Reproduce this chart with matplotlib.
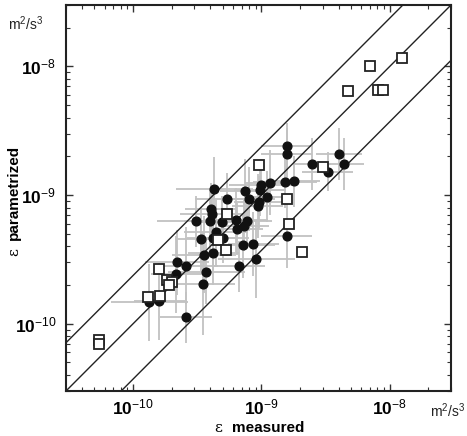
import numpy as np
import matplotlib
matplotlib.use("Agg")
import matplotlib.pyplot as plt
from matplotlib.ticker import LogLocator, FixedLocator, NullFormatter

plt.rcParams['font.family'] = ['Liberation Sans', 'DejaVu Sans']
plt.rcParams['mathtext.fontset'] = 'custom'
plt.rcParams['mathtext.rm'] = 'Liberation Sans'
plt.rcParams['mathtext.bf'] = 'Liberation Sans:bold'
plt.rcParams['mathtext.it'] = 'Liberation Sans:italic'

# measured (x) vs parametrized (y) dissipation, m^2/s^3 -- filled circles with error bars
circ_x = [1.57e-9, 1.57e-9, 4.03e-9, 2.48e-9, 4.43e-9, 3.29e-9, 9.93e-10, 1.17e-9, 1.53e-9, 1.80e-9,
          4.30e-10, 7.48e-10, 9.75e-10, 5.37e-10, 8.05e-10, 1.11e-9, 9.62e-10, 9.35e-10, 4.03e-10, 4.10e-10,
          3.09e-10, 3.94e-10, 4.91e-10, 6.34e-10, 7.67e-10, 7.29e-10, 6.49e-10, 4.40e-10, 3.37e-10, 4.17e-10,
          5.05e-10, 1.57e-9, 7.19e-10, 8.65e-10, 3.59e-10, 4.22e-10, 9.08e-10, 2.19e-10, 2.60e-10, 2.17e-10,
          3.70e-10, 6.73e-10, 3.48e-10, 1.34e-10, 1.60e-10, 2.58e-10]
circ_y = [2.42e-9, 2.08e-9, 2.09e-9, 1.75e-9, 1.74e-9, 1.52e-9, 1.20e-9, 1.25e-9, 1.26e-9, 1.28e-9,
          1.11e-9, 1.08e-9, 1.09e-9, 9.35e-10, 9.35e-10, 9.70e-10, 8.83e-10, 8.22e-10, 7.78e-10, 7.14e-10,
          6.24e-10, 6.24e-10, 6.19e-10, 6.37e-10, 6.34e-10, 5.79e-10, 5.45e-10, 5.12e-10, 4.55e-10, 4.62e-10,
          4.66e-10, 4.82e-10, 4.06e-10, 4.16e-10, 3.45e-10, 3.56e-10, 3.16e-10, 3.00e-10, 2.82e-10, 2.42e-10,
          2.53e-10, 2.79e-10, 2.05e-10, 1.47e-10, 1.49e-10, 1.12e-10]
# error half-widths in decades
circ_xerr_dex = [0.20, 0.20, 0.18, 0.15, 0.15, 0.20, 0.25, 0.20, 0.25, 0.20,
                 0.30, 0.20, 0.20, 0.25, 0.20, 0.15, 0.20, 0.20, 0.20, 0.25,
                 0.30, 0.20, 0.20, 0.25, 0.20, 0.20, 0.20, 0.25, 0.20, 0.20,
                 0.20, 0.20, 0.25, 0.20, 0.25, 0.20, 0.30, 0.25, 0.25, 0.20,
                 0.30, 0.20, 0.25, 0.30, 0.20, 0.20]
circ_yerr_dex = [0.18, 0.20, 0.20, 0.20, 0.20, 0.15, 0.20, 0.25, 0.20, 0.20,
                 0.25, 0.25, 0.20, 0.20, 0.25, 0.20, 0.20, 0.25, 0.20, 0.20,
                 0.20, 0.25, 0.20, 0.25, 0.20, 0.20, 0.20, 0.25, 0.25, 0.25,
                 0.20, 0.25, 0.25, 0.25, 0.30, 0.25, 0.30, 0.25, 0.30, 0.30,
                 0.25, 0.20, 0.40, 0.30, 0.30, 0.20]

# open squares (no error bars)
sq_x = [1.24e-8, 7.06e-9, 4.75e-9, 8.05e-9, 8.91e-9, 9.62e-10, 3.01e-9, 1.57e-9, 5.40e-10, 1.63e-9,
        4.55e-10, 5.25e-10, 2.07e-9, 1.60e-10, 1.83e-10, 2.00e-10, 1.91e-10, 1.31e-10, 1.62e-10, 5.46e-11, 5.46e-11]
sq_y = [1.16e-8, 1.01e-8, 6.49e-9, 6.52e-9, 6.52e-9, 1.72e-9, 1.64e-9, 9.31e-10, 7.14e-10, 5.98e-10,
        4.44e-10, 3.75e-10, 3.59e-10, 2.66e-10, 2.19e-10, 2.12e-10, 2.00e-10, 1.62e-10, 1.63e-10, 7.48e-11, 6.92e-11]

# reference lines: y = factor * x
line_factors = [10 ** 0.375, 1.0, 10 ** -0.43]
ax_lim = [3e-11, 3e-8]
major_ticks = [1e-10, 1e-9, 1e-8]
tick_labels = [r'$\mathbf{10}^{-10}$', r'$\mathbf{10}^{-9}$', r'$\mathbf{10}^{-8}$']

W, H = 467, 436
fig = plt.figure(figsize=(W / 100, H / 100), dpi=100)
L, R, T, B = 66, 451, 5, 391
ax = fig.add_axes([L / W, (H - B) / H, (R - L) / W, (B - T) / H])
ax.set_xscale('log')
ax.set_yscale('log')
ax.set_xlim(ax_lim)
ax.set_ylim(ax_lim)

xx = np.array(ax_lim)
for f in line_factors:
    ax.plot(xx, f * xx, color='#222222', lw=1.0, zorder=2)

cx = np.array(circ_x); cy = np.array(circ_y)
dx = np.array(circ_xerr_dex); dy = np.array(circ_yerr_dex)
xerr = np.vstack([cx * (1 - 10 ** -dx), cx * (10 ** dx - 1)])
yerr = np.vstack([cy * (1 - 10 ** -dy), cy * (10 ** dy - 1)])
ax.errorbar(cx, cy, xerr=xerr, yerr=yerr, fmt='none', ecolor='#c2c2c2', elinewidth=1.3, capsize=0, zorder=1)
ax.plot(cx, cy, 'o', color='#111111', ms=6.3, zorder=4)
ax.plot(sq_x, sq_y, 's', mfc='white', mec='#222222', mew=1.3, ms=7.2, zorder=5)

for axis in (ax.xaxis, ax.yaxis):
    axis.set_major_locator(FixedLocator(major_ticks))
    axis.set_minor_locator(LogLocator(base=10, subs=np.arange(2, 10)))
    axis.set_minor_formatter(NullFormatter())
ax.set_xticklabels(tick_labels)
ax.set_yticklabels(tick_labels)
ax.tick_params(which='both', direction='in', top=True, right=True, color='#333333')
ax.tick_params(which='major', length=5, width=1.0, labelsize=12.5)
ax.tick_params(axis='x', which='major', pad=5)
ax.tick_params(axis='y', which='major', pad=7)
ax.tick_params(which='minor', length=3, width=0.8)
for s in ax.spines.values():
    s.set_linewidth(1.5)
    s.set_color('#222222')

# unit labels
fig.text(8 / W, 1 - 24 / H, r'm$^2$/s$^3$', fontsize=10, ha='left', va='center', color='#222222')
fig.text(430 / W, 1 - 411 / H, r'm$^2$/s$^3$', fontsize=10, ha='left', va='center', color='#222222')

# axis labels
fig.text(218 / W, 1 - 428 / H, 'ε', fontsize=11, ha='center', va='center', family='DejaVu Serif')
fig.text(232 / W, 1 - 428 / H, 'measured', fontsize=11, fontweight='bold', ha='left', va='center')
fig.text(14 / W, 1 - 252 / H, 'ε', fontsize=11, ha='center', va='center', rotation=90, family='DejaVu Serif')
fig.text(14 / W, 1 - 240 / H, 'parametrized', fontsize=11, fontweight='bold', ha='center', va='bottom', rotation=90)

fig.savefig('out.png', dpi=100)
